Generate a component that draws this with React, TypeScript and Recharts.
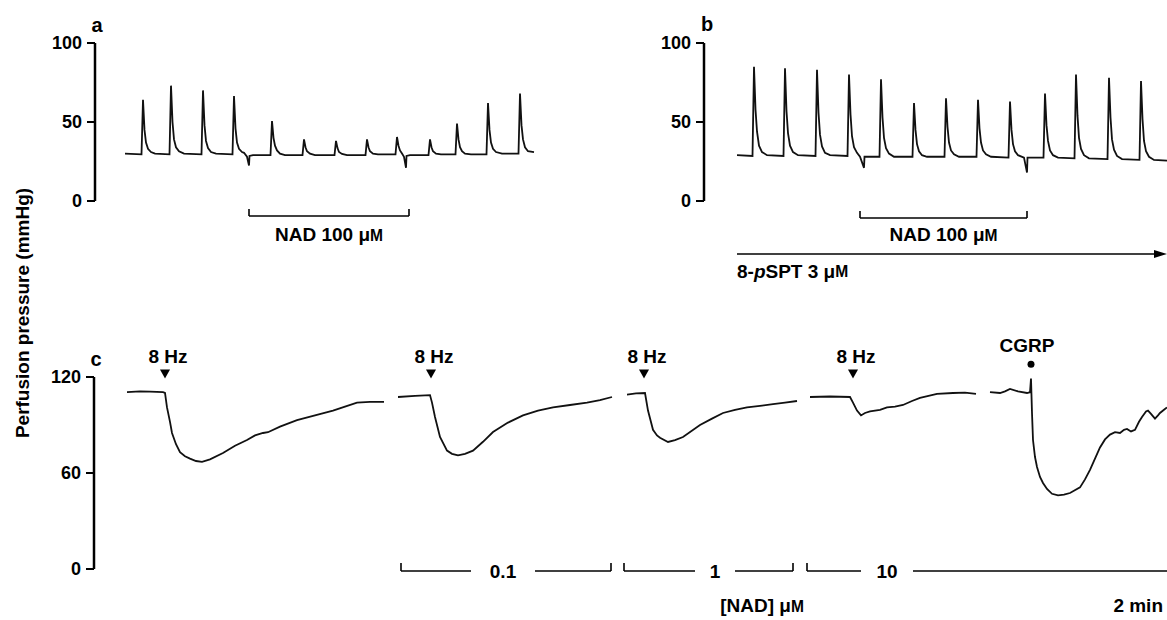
import React from 'react';
import { LineChart, Line, XAxis, YAxis, ReferenceLine, ReferenceDot } from 'recharts';

const FONT = '"Liberation Sans", Arial, Helvetica, sans-serif';

// [time (s from the axis), perfusion pressure (mmHg)]
const traceA: [number, number][] = [
  [30, 30], [46.5, 29.5], [48, 64], [49.5, 45], [51, 37], [53, 33], [56, 31], [60, 30],
  [74.5, 29.5], [76, 73], [77.5, 50], [79, 39], [81, 34], [84, 31.5], [89, 30],
  [106.5, 29.5], [108, 70], [109.5, 48], [111, 38], [113, 33.5], [116, 31], [121, 30],
  [137.5, 29.5], [139, 66.5], [140.5, 46], [142, 37], [144, 33], [147, 31], [149, 30.5],
  [152, 28], [154, 22.5], [154.5, 28.5], [158, 29],
  [175.5, 29], [177, 50.6], [178.5, 40], [180, 35], [182, 32], [185, 30], [190, 29],
  [207.5, 29], [209, 39], [210.5, 34], [212, 31.5], [215, 30], [220, 29],
  [239.5, 29], [241, 38], [242.5, 33.5], [244, 31], [247, 29.8], [252, 29],
  [270.5, 29], [272, 39], [273.5, 34], [275, 31.5], [278, 30], [283, 29.5],
  [300.5, 29.5], [302, 40.5], [303.5, 35], [305, 32], [307, 30], [309, 28], [311, 21], [311.5, 28.5], [315, 29],
  [333.5, 29], [335, 39], [336.5, 34], [338, 31.5], [341, 30], [346, 29.5],
  [360.5, 29.5], [362, 49], [363.5, 39], [365, 34], [367, 31.5], [370, 30], [376, 29.5],
  [391.5, 29.5], [393, 62], [394.5, 45], [396, 37], [398, 33], [401, 31], [407, 30],
  [423.5, 30], [425, 68], [426.5, 48], [428, 39], [430, 34], [433, 31.5], [439, 31],
];

const traceB: [number, number][] = [
  [33, 29], [48.5, 28.5], [50, 85], [51.5, 58], [53, 44], [55, 35], [58, 31], [63, 29],
  [79.5, 28.5], [81, 84], [82.5, 57], [84, 43], [86, 35], [89, 31], [94, 29],
  [111.5, 28.5], [113, 83], [114.5, 56], [116, 42], [118, 34.5], [121, 30.5], [126, 29],
  [143.5, 28.5], [145, 80], [146.5, 55], [148, 41], [150, 34], [153, 30.5],
  [156, 28], [160, 21], [160.5, 28], [163, 28],
  [175.5, 28], [177, 77], [178.5, 53], [180, 40], [182, 33.5], [185, 30], [190, 28],
  [208.5, 28], [210, 62], [211.5, 45], [213, 36], [215, 31.5], [218, 29], [223, 28],
  [240.5, 28], [242, 65], [243.5, 47], [245, 37], [247, 32], [250, 29.5], [255, 28],
  [272.5, 28], [274, 64], [275.5, 46], [277, 37], [279, 32], [282, 29.5], [287, 28],
  [304.5, 27.5], [306, 63], [307.5, 45], [309, 36], [311, 31.5], [314, 29],
  [320, 27.5], [323, 18], [323.5, 27.5], [327, 27.5],
  [339.5, 27.5], [341, 68], [342.5, 48], [344, 38], [346, 32], [349, 29], [354, 27.5],
  [370.5, 27], [372, 80], [373.5, 54], [375, 40], [377, 33], [380, 29], [385, 27],
  [403.5, 26.5], [405, 78], [406.5, 53], [408, 39], [410, 32.5], [413, 28.5], [418, 26.5],
  [435.5, 26], [437, 76], [438.5, 52], [440, 38], [442, 31.5], [445, 28], [450, 26], [463, 25.5],
];

const traceC1: [number, number][] = [
  [33, 110.5], [46, 111], [56, 110.8], [69, 110.5], [71, 110], [73, 101], [76, 92], [78, 85],
  [82, 78], [86, 73], [91, 70.5], [96, 69], [102, 67.5], [108, 67], [116, 68.5], [129, 72.5],
  [141, 77], [153, 80.6], [161, 83.5], [169, 85], [174, 85.5], [186, 89], [203, 93], [221, 96],
  [239, 99], [251, 101.5], [263, 104], [276, 104.5], [290, 104.5],
];
const traceC2: [number, number][] = [
  [304, 107.5], [321, 108.2], [336, 108.7], [338, 104], [341, 95], [346, 82.5], [353, 74],
  [358, 72], [364, 71], [371, 72], [379, 74], [389, 79.5], [399, 85.6], [414, 91.5], [429, 96],
  [444, 99], [459, 101], [476, 102.5], [493, 104], [506, 105.5], [518, 107.5],
];
const traceC3: [number, number][] = [
  [533, 109], [542, 109.8], [551, 110], [554, 99], [559, 87], [563, 83.5], [566, 82], [574, 79.4],
  [581, 80.5], [589, 82.5], [606, 90], [618, 94], [629, 97.5], [641, 99.5], [653, 101], [666, 102],
  [679, 103], [691, 104], [703, 105],
];
const traceC4: [number, number][] = [
  [716, 107.5], [736, 107.8], [756, 107.5], [759, 104], [763, 99], [767, 96], [771, 97.5],
  [776, 98.5], [786, 99.5], [793, 101], [801, 101.5], [809, 102.5], [818, 105], [826, 107],
  [843, 109.4], [859, 110], [871, 110.2], [882, 109.4],
];
const traceC5: [number, number][] = [
  [896, 110.6], [906, 110], [911, 111], [916, 112.5], [924, 111], [933, 110], [936, 110.5],
  [937, 119], [938, 97.5], [939, 80.6], [941, 70], [943, 63.75], [946, 57.5], [949, 53.75],
  [953, 50], [958, 47], [964, 46], [970, 46.5], [976, 47.5], [986, 51], [991, 56], [996, 62],
  [1001, 69], [1006, 76], [1011, 81], [1016, 84], [1021, 85.5], [1026, 85], [1030, 87],
  [1033, 87.5], [1037, 86], [1041, 87], [1045, 92], [1048, 95], [1052, 98.5], [1054, 99],
  [1057, 97], [1061, 94], [1064, 96], [1066, 97.5], [1070, 99.5], [1073, 101],
];

const ticksAB = [0, 50, 100];
const ticksC = [0, 60, 120];

const nadA = [154, 314];
const nadB = [156, 323];
const spt = [33, 463];
const stims = [71, 337, 550, 759];
const cgrp = 937;
const doses = [
  { label: '0.1', from: 307, to: 517, mid: 409, open: false },
  { label: '1', from: 530, to: 699, mid: 621, open: false },
  { label: '10', from: 713, to: 1073, mid: 793, open: true },
];

const pts = (a: [number, number][]) => a.map(([t, p]) => ({ t, p }));

const lineStyle = { stroke: '#111', strokeWidth: 1.8 };
const axisLine = { stroke: '#000', strokeWidth: 2.5 };
const tickLine = { stroke: '#000', strokeWidth: 2 };
const tickFont = { fill: '#000', fontSize: 18, fontWeight: 700, fontFamily: FONT };

const Mu = ({ pre }: { pre: string }) => (
  <>
    {pre}μ<tspan fontSize="0.82em">M</tspan>
  </>
);

const note = (key: string, x: number, y: number, content: any, anchor = 'middle', size = 19) => (
  <ReferenceDot
    key={key}
    x={x}
    y={y}
    ifOverflow="visible"
    shape={(p: any) => (
      <text
        x={p.cx}
        y={p.cy}
        textAnchor={anchor}
        dominantBaseline="central"
        fontFamily={FONT}
        fontWeight={700}
        fontSize={size}
        fill="#000"
      >
        {content}
      </text>
    )}
  />
);

const seg = (key: string, x1: number, y1: number, x2: number, y2: number, w = 1.6) => (
  <ReferenceLine
    key={key}
    segment={[{ x: x1, y: y1 }, { x: x2, y: y2 }]}
    ifOverflow="visible"
    stroke="#000"
    strokeWidth={w}
  />
);

const bracket = (key: string, from: number, to: number, y: number, yTop: number, leftTick = true, rightTick = true) => [
  seg(key + 'h', from, y, to, y),
  leftTick ? seg(key + 'l', from, y, from, yTop) : null,
  rightTick ? seg(key + 'r', to, y, to, yTop) : null,
];

const shape = (kind: string) => (p: any) => {
  const { cx, cy } = p;
  if (kind === 'tri') return <polygon points={`${cx - 5},${cy - 5} ${cx + 5},${cy - 5} ${cx},${cy + 4}`} fill="#000" />;
  if (kind === 'arrow') return <polygon points={`${cx},${cy} ${cx - 13},${cy - 4} ${cx - 13},${cy + 4}`} fill="#000" />;
  return <circle cx={cx} cy={cy} r={3.5} fill="#000" />;
};

export default function App() {
  return (
    <div style={{ position: 'absolute', left: 0, top: 0, width: 1167, height: 620, background: '#fff', overflow: 'hidden' }}>
      {/* panel a */}
      <div style={{ position: 'absolute', left: 0, top: 0 }}>
        <LineChart width={560} height={260} margin={{ top: 43, right: 15, bottom: 59, left: 0 }}>
          <XAxis type="number" dataKey="t" domain={[0, 450]} allowDataOverflow hide />
          <YAxis type="number" domain={[0, 100]} ticks={ticksAB} width={95} allowDataOverflow
            axisLine={axisLine} tickLine={tickLine} tick={tickFont} tickSize={8} tickMargin={5} />
          <Line data={pts(traceA)} dataKey="p" type="linear" dot={false} {...lineStyle} isAnimationActive={false} />
          {bracket('na', nadA[0], nadA[1], -9.5, -5)}
          {note('nal', (nadA[0] + nadA[1]) / 2, -21.5, <Mu pre="NAD 100 " />)}
        </LineChart>
      </div>

      {/* panel b */}
      <div style={{ position: 'absolute', left: 620, top: 0 }}>
        <LineChart width={547} height={290} margin={{ top: 43, right: 0, bottom: 89, left: 0 }}>
          <XAxis type="number" dataKey="t" domain={[0, 463]} allowDataOverflow hide />
          <YAxis type="number" domain={[0, 100]} ticks={ticksAB} width={84} allowDataOverflow
            axisLine={axisLine} tickLine={tickLine} tick={tickFont} tickSize={8} tickMargin={5} />
          <Line data={pts(traceB)} dataKey="p" type="linear" dot={false} {...lineStyle} isAnimationActive={false} />
          {bracket('nb', nadB[0], nadB[1], -10.8, -6.3)}
          {note('nbl', (nadB[0] + nadB[1]) / 2, -21.5, <Mu pre="NAD 100 " />)}
          {seg('spt', spt[0], -33.5, spt[1] - 4, -33.5, 1.6)}
          <ReferenceDot x={spt[1]} y={-33.5} ifOverflow="visible" shape={shape('arrow')} />
          {note('sptl', spt[0], -44.6, <>8-<tspan fontStyle="italic">p</tspan>SPT 3 μ<tspan fontSize="0.82em">M</tspan></>, 'start')}
        </LineChart>
      </div>

      {/* panel c */}
      <div style={{ position: 'absolute', left: 0, top: 330 }}>
        <LineChart width={1167} height={290} margin={{ top: 47, right: 0, bottom: 51, left: 0 }}>
          <XAxis type="number" dataKey="t" domain={[0, 1073]} allowDataOverflow hide />
          <YAxis type="number" domain={[0, 120]} ticks={ticksC} width={94} allowDataOverflow
            axisLine={axisLine} tickLine={tickLine} tick={tickFont} tickSize={8} tickMargin={5} />
          {[traceC1, traceC2, traceC3, traceC4, traceC5].map((s, i) => (
            <Line key={'c' + i} data={pts(s)} dataKey="p" type="linear" dot={false} {...lineStyle} isAnimationActive={false} />
          ))}
          {stims.map((t, i) => (
            <ReferenceDot key={'tri' + i} x={t} y={121.5} ifOverflow="visible" shape={shape('tri')} />
          ))}
          {stims.map((t, i) => note('hz' + i, t + 3, 133, '8 Hz'))}
          <ReferenceDot x={cgrp} y={128} ifOverflow="visible" shape={shape('dot')} />
          {note('cgrp', cgrp - 4, 139.5, 'CGRP')}
          {doses.map((d) => {
            const half = 14 + d.label.length * 6;
            return [
              ...bracket('d' + d.label + 'a', d.from, d.mid - half, -1.25, 3.75, true, false),
              ...bracket('d' + d.label + 'b', d.mid + half, d.to, -1.25, 3.75, false, !d.open),
              note('dl' + d.label, d.mid, -1.25, d.label),
            ];
          })}
          {note('nadc', 668, -23, <>[NAD] μ<tspan fontSize="0.82em">M</tspan></>)}
          {note('min', 1069, -23, '2 min', 'end')}
        </LineChart>
      </div>

      {/* panel letters and shared axis title */}
      <svg width={1167} height={620} style={{ position: 'absolute', left: 0, top: 0, pointerEvents: 'none' }}>
        <g fontFamily={FONT} fontWeight={900} fill="#000">
          <text x={97} y={32} fontSize={20} textAnchor="middle">a</text>
          <text x={707} y={31} fontSize={20} textAnchor="middle">b</text>
          <text x={96} y={366} fontSize={20} textAnchor="middle">c</text>
          <text x={22} y={313} fontSize={19} fontWeight={700} textAnchor="middle" dominantBaseline="central"
            transform="rotate(-90 22 313)">Perfusion pressure (mmHg)</text>
        </g>
      </svg>
    </div>
  );
}
